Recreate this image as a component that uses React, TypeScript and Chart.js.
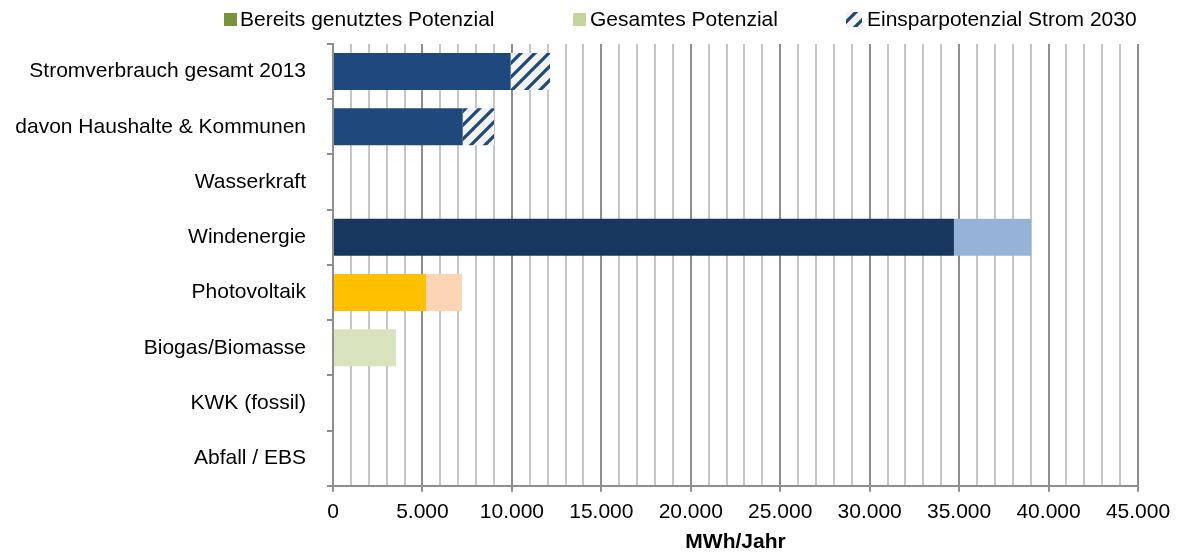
import React, { useEffect, useRef } from 'react';
import { Chart, registerables } from 'chart.js';

Chart.register(...registerables);

const categories = [
  'Stromverbrauch gesamt 2013',
  'davon Haushalte & Kommunen',
  'Wasserkraft',
  'Windenergie',
  'Photovoltaik',
  'Biogas/Biomasse',
  'KWK (fossil)',
  'Abfall / EBS',
];
const usedPotential = [9930, 7250, 0, 34710, 5200, 0, 0, 0];
const totalPotential = [0, 0, 0, 39020, 7210, 3520, 0, 0];
const savings2030 = [2200, 1750, 0, 0, 0, 0, 0, 0];
const usedColors = ['#1F497D', '#1F497D', '#1F497D', '#17375E', '#FFC000', '#77933C', '#77933C', '#77933C'];
const totalColors = ['#95B3D7', '#95B3D7', '#95B3D7', '#95B3D7', '#FCD5B5', '#D7E4BD', '#D7E4BD', '#D7E4BD'];
const xTickLabels = ['0', '5.000', '10.000', '15.000', '20.000', '25.000', '30.000', '35.000', '40.000', '45.000'];
const legendLabels = ['Bereits genutztes Potenzial', 'Gesamtes Potenzial', 'Einsparpotenzial Strom 2030'];
const legendColors = ['#77933C', '#C3D69B'];
const axisTitle = 'MWh/Jahr';

const FONT = '"Liberation Sans", Arial, sans-serif';

function makeHatch(): CanvasPattern | string {
  const size = 14;
  const c = document.createElement('canvas');
  c.width = size;
  c.height = size;
  const g = c.getContext('2d');
  if (!g) return '#1F497D';
  g.fillStyle = '#F2F2F2';
  g.fillRect(0, 0, size, size);
  g.strokeStyle = '#1F497D';
  g.lineWidth = 3.2;
  g.beginPath();
  g.moveTo(-2, size + 2);
  g.lineTo(size + 2, -2);
  g.moveTo(-2, 2);
  g.lineTo(2, -2);
  g.moveTo(size - 2, size + 2);
  g.lineTo(size + 2, size - 2);
  g.stroke();
  const p = g.createPattern(c, 'repeat');
  return p || '#1F497D';
}

export default function App() {
  const ref = useRef<HTMLCanvasElement | null>(null);

  useEffect(() => {
    if (!ref.current) return;
    const hatch = makeHatch();
    const remainder = totalPotential.map((t, i) => (t > usedPotential[i] ? t - usedPotential[i] : 0));

    const legendPlugin = {
      id: 'customLegend',
      afterDraw(chart: any) {
        const ctx = chart.ctx as CanvasRenderingContext2D;
        ctx.save();
        ctx.font = `21px ${FONT}`;
        ctx.textBaseline = 'middle';
        ctx.textAlign = 'left';
        ctx.fillStyle = legendColors[0];
        ctx.fillRect(224, 13, 13, 13);
        ctx.fillStyle = legendColors[1];
        ctx.fillRect(573, 13, 13, 13);
        ctx.fillStyle = hatch as any;
        ctx.fillRect(846, 12, 16, 15);
        ctx.fillStyle = '#000';
        ctx.fillText(legendLabels[0], 240, 20);
        ctx.fillText(legendLabels[1], 590, 20);
        ctx.fillText(legendLabels[2], 867, 20);
        ctx.restore();
      },
    };

    const chart = new Chart(ref.current, {
      type: 'bar',
      data: {
        labels: categories,
        datasets: [
          {
            label: legendLabels[0],
            data: usedPotential,
            backgroundColor: usedColors,
            borderWidth: 0,
          },
          {
            label: legendLabels[1],
            data: remainder,
            backgroundColor: totalColors,
            borderWidth: 0,
          },
          {
            label: legendLabels[2],
            data: savings2030,
            backgroundColor: hatch as any,
            borderWidth: 0,
          },
        ],
      },
      options: {
        indexAxis: 'y',
        responsive: false,
        animation: false,
        devicePixelRatio: 1,
        layout: { padding: { left: 15, right: 41, top: 44, bottom: 0 } },
        plugins: { legend: { display: false }, tooltip: { enabled: false } },
        datasets: { bar: { categoryPercentage: 1, barPercentage: 0.67 } },
        scales: {
          x: {
            type: 'linear',
            stacked: true,
            min: 0,
            max: 45000,
            ticks: {
              stepSize: 1000,
              autoSkip: false,
              maxRotation: 0,
              padding: 8,
              color: '#000',
              font: { family: FONT, size: 21, lineHeight: 1.15 },
              callback: (v: any) => (Number(v) % 5000 === 0 ? xTickLabels[Number(v) / 5000] : ''),
            },
            grid: {
              color: (c: any) => (c.tick && c.tick.value % 5000 === 0 ? '#8E8E8E' : '#C6C6C6'),
              tickColor: (c: any) => (c.tick && c.tick.value % 5000 === 0 ? '#8E8E8E' : 'rgba(0,0,0,0)'),
              lineWidth: 2,
              tickLength: 6,
            },
            border: { color: '#8E8E8E', width: 2 },
            title: {
              display: true,
              text: axisTitle,
              color: '#000',
              font: { family: FONT, size: 21, weight: 'bold', lineHeight: 1 },
              padding: { top: 0, bottom: 0 },
            },
          },
          y: {
            stacked: true,
            afterFit: (scale: any) => {
              scale.width = 318;
            },
            grid: {
              drawOnChartArea: false,
              offset: true,
              tickLength: 6,
              color: '#8E8E8E',
              lineWidth: 2,
            },
            border: { color: '#8E8E8E', width: 2 },
            ticks: {
              padding: 21,
              color: '#000',
              font: { family: FONT, size: 21 },
              autoSkip: false,
            },
          },
        },
      } as any,
      plugins: [legendPlugin],
    });
    return () => chart.destroy();
  }, []);

  return (
    <div style={{ position: 'absolute', left: 0, top: 0, width: 1179, height: 553, background: '#fff' }}>
      <canvas ref={ref} width={1179} height={553} style={{ display: 'block' }} />
    </div>
  );
}
